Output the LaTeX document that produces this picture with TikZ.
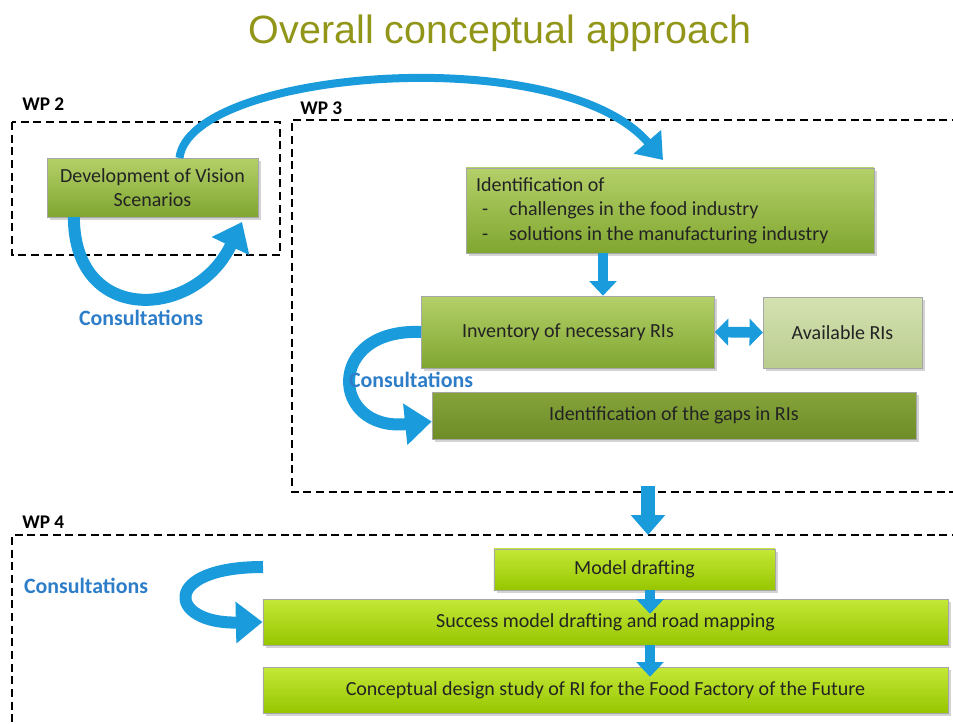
\documentclass[tikz,border=0pt]{standalone}
\usepackage{fontspec}
\setmainfont{Carlito}
\newfontfamily\titlefont{Liberation Sans}
\usepackage{tikz}
\usetikzlibrary{arrows.meta, shadows, calc}

\definecolor{titleolive}{RGB}{145,150,25}
\definecolor{txtdark}{RGB}{35,35,35}
\definecolor{consblue}{RGB}{45,125,200}
\definecolor{arrowblue}{RGB}{25,155,220}
\definecolor{greentop}{RGB}{180,208,105}
\definecolor{greenbot}{RGB}{128,166,48}
\definecolor{availtop}{RGB}{212,226,178}
\definecolor{availbot}{RGB}{186,204,142}
\definecolor{gapstop}{RGB}{134,163,58}
\definecolor{gapsbot}{RGB}{110,141,40}
\definecolor{limetop}{RGB}{196,232,55}
\definecolor{limebot}{RGB}{150,198,0}

\tikzset{
  wpbox/.style={line width=2.1pt, dash pattern={on 6pt off 3.5pt}},
  wplabel/.style={anchor=west, inner sep=0pt, font=\fontsize{14.5}{16}\selectfont\bfseries},
  stepbox/.style={draw=black!35, line width=0.4pt, text=txtdark, align=center,
    font=\fontsize{15}{17.5}\selectfont, drop shadow={shadow xshift=2pt, shadow yshift=-2pt, opacity=0.35}},
  greenbox/.style={stepbox, top color=greentop, bottom color=greenbot},
  availbox/.style={stepbox, top color=availtop, bottom color=availbot},
  gapsbox/.style={stepbox, top color=gapstop, bottom color=gapsbot},
  limebox/.style={stepbox, top color=limetop, bottom color=limebot},
  conslabel/.style={text=consblue, font=\fontsize{16.4}{18}\selectfont\bfseries, inner sep=0pt},
  blockarrow/.style={draw=arrowblue, line width=8pt, -{Triangle[width=20pt,length=11pt]}},
  looparrow/.style={draw=arrowblue, line width=9pt, -{Triangle[width=30pt,length=20pt]}},
}

\begin{document}
\begin{tikzpicture}[x=0.75pt,y=0.75pt,yscale=-1,xscale=1]
\useasboundingbox (0,0) rectangle (953,724);

% Title
\node (title) at (500,33) {\titlefont\fontsize{29.6}{34}\selectfont\color{titleolive}Overall conceptual approach};

%Shape: WP 2 frame
\draw [wpbox] (12,122) rectangle (280,255);
\node [wplabel] (wp2) at (22,104) {WP 2};
%Shape: WP 3 frame
\draw [wpbox] (960,120) -- (292,120) -- (292,492) -- (960,492);
\node [wplabel] (wp3) at (300,108) {WP 3};
%Shape: WP 4 frame
\draw [wpbox] (960,535) -- (12,535) -- (12,730);
\node [wplabel] (wp4) at (22,522) {WP 4};

% Boxes
\node [greenbox, minimum width=158pt, minimum height=44pt] (dev) at (152.5,187.5) {Development of Vision\\Scenarios};
\node [greenbox, minimum width=306pt, minimum height=64pt, align=left, text width=291pt,
  font=\fontsize{15}{18.4}\selectfont] (ident) at (670,210.5)
  {\spaceskip=0pt\relax Identification of\\\hspace*{0.3em}-\hspace{1.05em}challenges in the food industry\\\hspace*{0.3em}-\hspace{1.05em}solutions in the manufacturing industry};
\node [greenbox, minimum width=220pt, minimum height=54pt] (inv) at (568,332) {Inventory of necessary RIs};
\node [availbox, minimum width=119pt, minimum height=53pt] (avail) at (842.5,332.5) {Available RIs};
\node [gapsbox, minimum width=363pt, minimum height=35pt] (gaps) at (674,415.5) {Identification of the gaps in RIs};
\node [limebox, minimum width=211pt, minimum height=31pt] (md) at (634.5,569.5) {Model drafting};
\node [limebox, minimum width=514pt, minimum height=34.5pt] (sm) at (605.5,622) {Success model drafting and road mapping};
\node [limebox, minimum width=514pt, minimum height=34.5pt] (cd) at (605.5,690) {Conceptual design study of RI for the Food Factory of the Future};

% free ends of the arrows
\coordinate (arctip) at (663,160);
\coordinate (wp2tip) at (242,222);
\coordinate (wp3out) at (648,486);
\coordinate (wp4in) at (648,535);
\coordinate (wp4start) at (263,567);

% Arrows
\draw [draw=arrowblue, line width=6pt, -{Triangle[width=26pt,length=18pt]}]
  ($(dev.north)+(27,0)$) .. controls (190,70) and (560,40) .. (arctip);
\draw [looparrow] ($(dev.south west)+(27,0)$) .. controls (74,325) and (195,320) .. (wp2tip);
\draw [blockarrow] (ident.south -| 603,0) -- (inv.north -| 603,0);
\draw [blockarrow, {Triangle[width=20pt,length=10pt]}-{Triangle[width=20pt,length=10pt]}] (inv.east) -- (avail.west);
\draw [looparrow] (inv.west) .. controls (325,328) and (330,432) .. ($(gaps.west)+(0,6)$);
\draw [blockarrow, line width=11pt, -{Triangle[width=25pt,length=15pt]}] (wp3out) -- (wp4in);
\draw [looparrow] (wp4start) .. controls (160,567) and (168,624) .. (sm.west);
\draw [blockarrow] (md.south -| 650,0) -- ($(sm.north -| 650,0)+(0,15)$);
\draw [blockarrow] (sm.south -| 650,0) -- ($(cd.north -| 650,0)+(0,10)$);

% Consultation labels
\node [conslabel] (cons2) at (141,318) {Consultations};
\node [conslabel] (cons3) at (411,380) {Consultations};
\node [conslabel] (cons4) at (86,586) {Consultations};
\end{tikzpicture}
\end{document}
